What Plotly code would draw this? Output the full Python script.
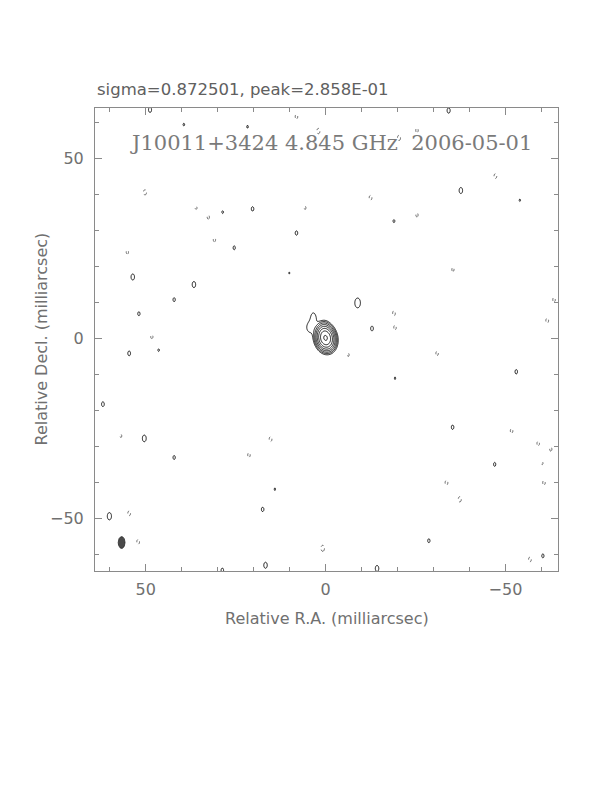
import numpy as np
import plotly.graph_objects as go

# ---------------- text ----------------
sigma_text = "sigma=0.872501, peak=2.858E-01"
title_text = "J10011+3424 4.845 GHz \u00a02006-05-01"
xlabel = "Relative R.A. (milliarcsec)"
ylabel = "Relative Decl. (milliarcsec)"

# ---------------- map parameters ----------------
rms_mjy = 0.872501
peak_jy = 0.2858
base_pct = 0.7                          # lowest contour, % of peak
base_mjy = peak_jy * 1000 * base_pct / 100
n_pos_levels = 8                        # base * 2**k, k = 0..7

x_range = [64.1, -64.6]
y_range = [-64.6, 63.9]
major_tick = 50
minor_tick = 10

# restoring beam (mas, deg)
beam_ra, beam_dec = 56.7, -56.7
beam_maj, beam_min, beam_pa = 3.3, 1.9, 0.0

# source components: position (mas), peak (mJy/beam), FWHM (mas), PA (deg)
src_ra = [0.0, 0.2, 4.3, 3.2]
src_dec = [0.0, 1.2, 3.0, 6.0]
src_mjy = [262.0, 30.0, 3.0, 2.8]
src_fwhm_ra = [2.6, 2.2, 2.4, 2.2]
src_fwhm_dec = [3.5, 3.6, 3.4, 3.4]
src_pa = [12.0, 10.0, 0.0, 0.0]

# residual noise peaks, in units of the lowest contour (negative -> dashed)
noise_ra = [48.8, -34.2, 39.4, 21.7, 28.6, 25.4, 53.6, 36.6, 42.1, 51.9,
            20.3, -19.0, 8.1, 10.1, -8.9, -12.9, -37.6, -54.0, 54.6, 46.4,
            61.9, 50.4, 42.1, 60.1, 28.7, -19.3, 14.1, 17.5, 16.7, -14.3,
            -53.0, -35.3, -47.0, -28.7, -60.4,
            50.2, 36.0, 32.6, 30.9, 55.1, 48.3, 8.1, 2.0, -20.4, 5.7,
            -12.5, 1.6, -19.0, -19.3, -25.4, -47.2, -25.4, -35.4, -63.5, -61.6,
            56.9, 21.3, 54.6, 52.1, -6.3, 15.3, 0.8, -31.0, -51.7, -59.1,
            -62.6, -60.2, -33.6, -60.7, -37.3, -56.8]
noise_dec = [63.4, 63.2, 59.3, 58.7, 35.0, 25.1, 17.0, 14.9, 10.7, 6.8,
             35.9, 32.5, 29.2, 18.1, 9.8, 2.7, 41.0, 38.3, -4.2, -3.3,
             -18.3, -27.8, -33.1, -49.4, -64.4, -11.1, -41.9, -47.5, -63.0, -63.9,
             -9.3, -24.7, -35.0, -56.2, -60.4,
             40.5, 36.2, 33.6, 27.3, 23.9, 0.4, 61.5, 57.5, 55.6, 36.2,
             39.0, 7.5, 7.0, 2.9, 57.7, 45.0, 34.2, 19.1, 10.7, 4.9,
             -27.1, -32.4, -48.6, -56.5, -4.6, -28.0, -58.3, -4.2, -25.7, -29.2,
             -30.8, -34.7, -40.1, -40.1, -44.7, -61.4]
noise_lvl = [1.15, 1.15, 1.04, 1.04, 1.04, 1.08, 1.2, 1.2, 1.08, 1.08,
             1.1, 1.05, 1.1, 1.02, 1.6, 1.12, 1.2, 1.03, 1.12, 1.04,
             1.12, 1.25, 1.08, 1.3, 1.1, 1.03, 1.03, 1.1, 1.2, 1.2,
             1.1, 1.1, 1.08, 1.08, 1.08,
             -1.15, -1.05, -1.08, -1.08, -1.08, -1.08, -1.1, -1.15, -1.15, -1.05,
             -1.12, -1.05, -1.1, -1.08, -1.1, -1.12, -1.08, -1.08, -1.1, -1.12,
             -1.05, -1.1, -1.12, -1.12, -1.05, -1.12, -1.2, -1.1, -1.1, -1.1,
             -1.08, -1.04, -1.12, -1.1, -1.15, -1.12]

# ---------------- build the map ----------------
gx = np.arange(-65.0, 65.0001, 0.2)
gy = np.arange(-65.0, 65.0001, 0.2)
X, Y = np.meshgrid(gx, gy)
F2S = 2.0 * np.sqrt(2.0 * np.log(2.0))


def gauss(x0, y0, fwhm_ra, fwhm_dec, pa):
    th = np.radians(pa)
    dx = X - x0
    dy = Y - y0
    u = dx * np.cos(th) - dy * np.sin(th)
    v = dx * np.sin(th) + dy * np.cos(th)
    sx = fwhm_ra / F2S
    sy = fwhm_dec / F2S
    return np.exp(-0.5 * ((u / sx) ** 2 + (v / sy) ** 2))


field = np.zeros_like(X)
for a, b, s, fr, fd, p in zip(src_ra, src_dec, src_mjy, src_fwhm_ra, src_fwhm_dec, src_pa):
    field += (s / base_mjy) * gauss(a, b, fr, fd, p)
for a, b, s in zip(noise_ra, noise_dec, noise_lvl):
    field += s * gauss(a, b, beam_min, beam_maj, beam_pa)

z_pos = np.log2(np.clip(field, 2.0 ** -6, None)).astype(np.float32)
z_neg = (-field).astype(np.float32)

fig = go.Figure()
fig.add_trace(go.Contour(
    x=gx, y=gy, z=z_pos, autocontour=False,
    contours=dict(start=0, end=n_pos_levels - 1, size=1, coloring="lines"),
    colorscale=[[0, "#1c1c1c"], [1, "#1c1c1c"]], showscale=False,
    line=dict(width=1.0), hoverinfo="skip"))
fig.add_trace(go.Contour(
    x=gx, y=gy, z=z_neg, autocontour=False,
    contours=dict(start=1, end=1.5, size=1, coloring="lines"),
    colorscale=[[0, "#555555"], [1, "#555555"]], showscale=False,
    line=dict(width=0.9, dash="dot"), hoverinfo="skip"))

# beam ellipse
t = np.linspace(0, 2 * np.pi, 120)
th = np.radians(beam_pa)
bu = 0.5 * beam_min * np.cos(t)
bv = 0.5 * beam_maj * np.sin(t)
bx = beam_ra + bu * np.cos(th) + bv * np.sin(th)
by = beam_dec - bu * np.sin(th) + bv * np.cos(th)
fig.add_trace(go.Scatter(x=bx, y=by, mode="lines", fill="toself",
                         fillcolor="#4a4a4a", line=dict(color="#2a2a2a", width=0.8),
                         hoverinfo="skip"))

axis_common = dict(
    showline=True, linecolor="#8a8a8a", linewidth=1, mirror="ticks",
    ticks="inside", ticklen=7, tickwidth=1, tickcolor="#8a8a8a",
    dtick=major_tick, tick0=0, showgrid=False, zeroline=False,
    tickfont=dict(family="DejaVu Sans", size=16, color="#707070"),
    minor=dict(dtick=minor_tick, tick0=0, ticks="inside", ticklen=4,
               tickcolor="#8a8a8a", showgrid=False),
)

# the page body has an 8 px margin, so the margins are reduced by 8 px
fig.update_layout(
    width=612, height=792,
    margin=dict(l=87, r=62, t=100, b=229),
    paper_bgcolor="white", plot_bgcolor="white",
    showlegend=False,
    xaxis=dict(range=x_range, ticklabelstandoff=4, **axis_common),
    yaxis=dict(range=y_range, ticklabelstandoff=7, **axis_common),
    annotations=[
        dict(text=sigma_text, xref="paper", yref="paper", x=0, y=1,
             xanchor="left", yanchor="middle", yshift=19, showarrow=False,
             font=dict(family="DejaVu Sans", size=16.5, color="#606060")),
        dict(text=title_text, xref="paper", yref="paper", x=0.51, y=0.925,
             xanchor="center", yanchor="middle", showarrow=False,
             font=dict(family="DejaVu Serif", size=21, color="#7a7a7a")),
        dict(text=xlabel, xref="paper", yref="paper", x=0.5, y=0,
             xanchor="center", yanchor="middle", yshift=-47, showarrow=False,
             font=dict(family="DejaVu Sans", size=16, color="#707070")),
        dict(text=ylabel, xref="paper", yref="paper", x=0, y=0.5,
             xanchor="center", yanchor="middle", xshift=-54, textangle=-90,
             showarrow=False,
             font=dict(family="DejaVu Sans", size=16, color="#707070")),
    ],
)

fig.write_html("out.html")
